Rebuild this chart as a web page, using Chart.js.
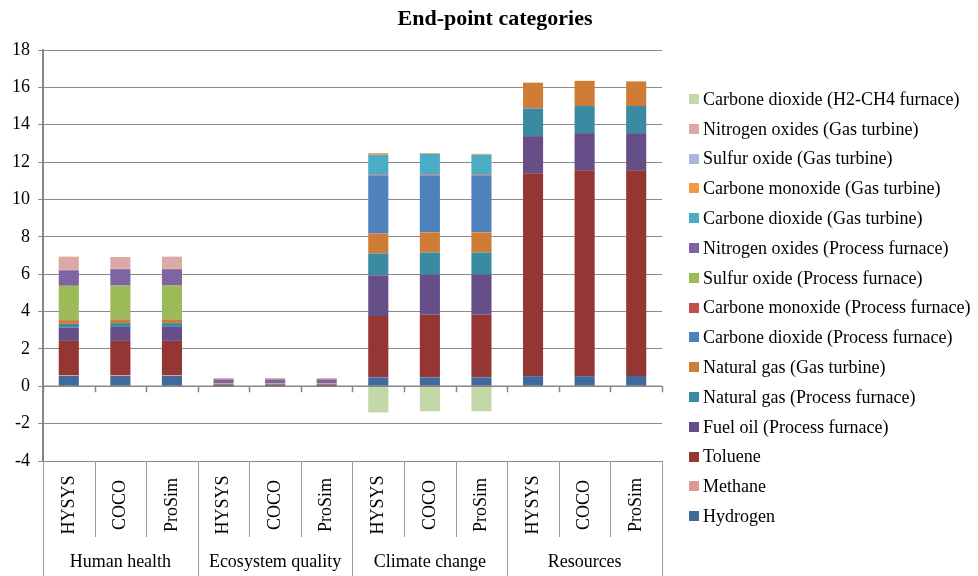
<!DOCTYPE html>
<html>
<head>
<meta charset="utf-8">
<script src="https://cdn.jsdelivr.net/npm/chart.js@4.4.1/dist/chart.umd.min.js"></script>
<style>
  html, body { margin: 0; padding: 0; background: #fff; }
</style>
</head>
<body>
<canvas id="chart" width="978" height="576"></canvas>
<script>
// categories and simulators (x axis, two levels)
const categories = ['Human health', 'Ecosystem quality', 'Climate change', 'Resources'];
const simulators = ['HYSYS', 'COCO', 'ProSim'];
const yTicks = { min: -4, max: 18, step: 2 };

// one value per bar: HH x3, EQ x3, CC x3, Resources x3
const hydrogen = [0.55, 0.55, 0.55, 0.01, 0.01, 0.01, 0.48, 0.48, 0.48, 0.54, 0.54, 0.55];
const methane  = [0.03, 0.03, 0.03, 0, 0, 0, 0.02, 0.02, 0.02, 0, 0, 0];
const toluene  = [1.85, 1.85, 1.85, 0.07, 0.07, 0.07, 3.26, 3.33, 3.33, 10.86, 11.02, 11.01];
const fuelOil  = [0.71, 0.75, 0.75, 0.03, 0.03, 0.03, 2.18, 2.15, 2.15, 1.99, 1.99, 1.99];
const natGasPF = [0.20, 0.20, 0.20, 0.01, 0.01, 0.01, 1.17, 1.18, 1.18, 1.48, 1.45, 1.45];
const natGasGT = [0.20, 0.19, 0.19, 0.01, 0.01, 0.01, 1.07, 1.08, 1.08, 1.38, 1.35, 1.32];
const co2PF    = [0, 0, 0, 0, 0, 0, 3.10, 3.04, 3.04, 0, 0, 0];
const coPF     = [0.02, 0.02, 0.02, 0, 0, 0, 0.05, 0.05, 0.05, 0, 0, 0];
const soxPF    = [1.82, 1.80, 1.80, 0.02, 0.02, 0.02, 0, 0, 0, 0, 0, 0];
const noxPF    = [0.83, 0.88, 0.88, 0.22, 0.22, 0.22, 0, 0, 0, 0, 0, 0];
const co2GT    = [0, 0, 0, 0, 0, 0, 1.06, 1.11, 1.06, 0, 0, 0];
const coGT     = [0.01, 0.01, 0.04, 0, 0, 0, 0.09, 0.04, 0.05, 0, 0, 0];
const soxGT    = [0.01, 0.01, 0.01, 0, 0, 0, 0, 0, 0, 0, 0, 0];
const noxGT    = [0.71, 0.63, 0.62, 0.07, 0.07, 0.07, 0, 0, 0, 0, 0, 0];
const co2H2CH4 = [0, 0, 0, 0, 0, 0, -1.40, -1.34, -1.34, 0, 0, 0];

const series = [
  ['Hydrogen', hydrogen, '#3E6A9E'],
  ['Methane', methane, '#DA9A98'],
  ['Toluene', toluene, '#943634'],
  ['Fuel oil (Process furnace)', fuelOil, '#664F88'],
  ['Natural gas (Process furnace)', natGasPF, '#3A8AA2'],
  ['Natural gas (Gas turbine)', natGasGT, '#CF7C37'],
  ['Carbone dioxide (Process furnace)', co2PF, '#4F81BD'],
  ['Carbone monoxide (Process furnace)', coPF, '#C0504D'],
  ['Sulfur oxide (Process furnace)', soxPF, '#9BBB59'],
  ['Nitrogen oxides (Process furnace)', noxPF, '#8064A2'],
  ['Carbone dioxide (Gas turbine)', co2GT, '#4BACC6'],
  ['Carbone monoxide (Gas turbine)', coGT, '#F79646'],
  ['Sulfur oxide (Gas turbine)', soxGT, '#A7B9DA'],
  ['Nitrogen oxides (Gas turbine)', noxGT, '#DCA9A8'],
  ['Carbone dioxide (H2-CH4 furnace)', co2H2CH4, '#C4D7A9']
];

const labels = [];
categories.forEach(c => simulators.forEach(s => labels.push(s)));

const serif = "'Liberation Serif', 'Times New Roman', serif";
const gray = '#8a8a8a';

const decor = {
  id: 'decor',
  afterDatasetsDraw(chart) {
    const { ctx, chartArea, scales: { x, y } } = chart;
    const step = x.width / labels.length;
    const y0 = y.getPixelForValue(0);
    ctx.save();
    ctx.strokeStyle = '#868686';
    ctx.lineWidth = 1.5;
    ctx.beginPath();
    ctx.moveTo(chartArea.left, y0);
    ctx.lineTo(chartArea.right, y0);
    for (let i = 0; i <= labels.length; i++) {
      const px = Math.round(x.getPixelForValue(i) - step / 2) + 0.5;
      ctx.moveTo(px, y0);
      ctx.lineTo(px, y0 + 6);
    }
    ctx.stroke();
    ctx.restore();
  },
  afterDraw(chart) {
    const { ctx, chartArea, scales: { x } } = chart;
    const step = x.width / labels.length;
    const top = chartArea.bottom;
    ctx.save();
    // separators of the two level axis
    ctx.strokeStyle = '#9a9a9a';
    ctx.lineWidth = 1;
    ctx.beginPath();
    for (let i = 0; i <= labels.length; i++) {
      const px = Math.round(x.getPixelForValue(i) - step / 2) + 0.5;
      ctx.moveTo(px, top);
      ctx.lineTo(px, i % 3 === 0 ? 576 : 537);
    }
    ctx.stroke();

    ctx.fillStyle = '#000';
    ctx.font = '18px ' + serif;
    ctx.textAlign = 'center';
    ctx.textBaseline = 'middle';
    labels.forEach((lab, i) => {
      ctx.save();
      ctx.translate(x.getPixelForValue(i), 505);
      ctx.rotate(-Math.PI / 2);
      ctx.fillText(lab, 0, 0);
      ctx.restore();
    });
    categories.forEach((c, k) => {
      const cx = x.getPixelForValue(k * 3 + 1);
      ctx.fillText(c, cx, 562);
    });

    // title
    ctx.font = 'bold 22px ' + serif;
    ctx.fillText('End-point categories', 495, 19);

    // legend, last series on top
    ctx.font = '18px ' + serif;
    ctx.textAlign = 'left';
    const items = chart.data.datasets.slice().reverse();
    items.forEach((ds, i) => {
      const cy = 99 + i * 29.8;
      ctx.fillStyle = ds.backgroundColor;
      ctx.fillRect(689, Math.round(cy - 5), 10, 10);
      ctx.fillStyle = '#000';
      ctx.fillText(ds.label, 703, cy + 1);
    });
    ctx.restore();
  }
};

new Chart(document.getElementById('chart'), {
  type: 'bar',
  data: {
    labels: labels,
    datasets: series.map(([name, values, color]) => ({
      label: name,
      data: values,
      backgroundColor: color,
      borderWidth: 0,
      categoryPercentage: 1,
      barPercentage: 0.39
    }))
  },
  options: {
    responsive: false,
    animation: false,
    layout: { padding: { top: 50, right: 316, left: 0, bottom: 0 } },
    plugins: {
      legend: { display: false },
      title: { display: false },
      tooltip: { enabled: false }
    },
    scales: {
      x: {
        stacked: true,
        ticks: { display: false },
        grid: { display: false },
        border: { display: false },
        afterFit(s) { s.height = 115; }
      },
      y: {
        stacked: true,
        min: yTicks.min,
        max: yTicks.max,
        ticks: { stepSize: yTicks.step, color: '#000', font: { family: serif, size: 18 }, padding: 8 },
        grid: { color: gray, lineWidth: 1, tickLength: 5 },
        border: { color: '#868686', width: 2 },
        afterFit(s) { s.width = 43; }
      }
    }
  },
  plugins: [decor]
});
</script>
</body>
</html>
